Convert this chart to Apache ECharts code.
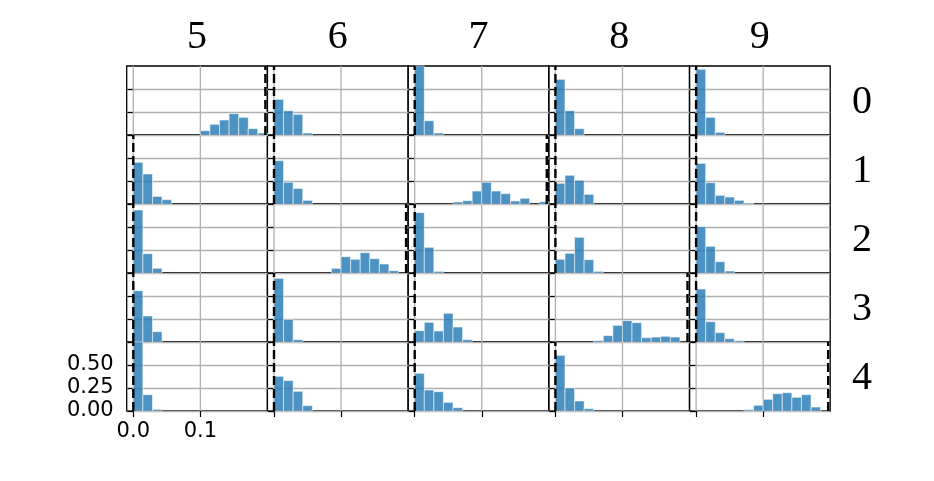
<!DOCTYPE html>
<html><head><meta charset="utf-8">
<script src="https://cdn.jsdelivr.net/npm/echarts@6/dist/echarts.min.js"></script>
<style>html,body{margin:0;padding:0;background:#fff}#c{width:934px;height:481px}</style>
</head><body><div id="c"></div>
<script>
// Column labels (top) and row labels (right)
const colLabels = ['5', '6', '7', '8', '9'];
const rowLabels = ['0', '1', '2', '3', '4'];
// Histogram bins: 14 bins spanning [binStart, binEnd]
const binStart = 0;
const binEnd = 0.2;
const binCount = 14;
// Bar heights (fraction) per cell, one array per row, columns 5..9
const row0 = [
  [0, 0, 0, 0, 0, 0, 0, 0.047, 0.116, 0.163, 0.232, 0.192, 0.069, 0.022],
  [0.388, 0.264, 0.225, 0.022, 0, 0, 0, 0, 0, 0, 0, 0, 0, 0],
  [0.82, 0.155, 0.022, 0, 0, 0, 0, 0, 0, 0, 0, 0, 0, 0],
  [0.605, 0.264, 0.069, 0, 0, 0, 0, 0, 0, 0, 0, 0, 0, 0],
  [0.714, 0.192, 0.029, 0, 0, 0, 0, 0, 0, 0, 0, 0, 0, 0]
];
const row1 = [
  [0.453, 0.326, 0.083, 0.047, 0, 0, 0, 0, 0, 0, 0, 0, 0, 0],
  [0.471, 0.236, 0.170, 0.040, 0, 0, 0, 0, 0, 0, 0, 0, 0, 0],
  [0, 0, 0, 0, 0.022, 0.036, 0.141, 0.236, 0.141, 0.112, 0.033, 0.062, 0, 0.025],
  [0.225, 0.312, 0.257, 0.105, 0, 0, 0, 0, 0, 0, 0, 0, 0, 0],
  [0.442, 0.232, 0.094, 0.076, 0.040, 0.010, 0, 0, 0, 0, 0, 0, 0, 0]
];
const row2 = [
  [0.685, 0.210, 0.051, 0, 0, 0, 0, 0, 0, 0, 0, 0, 0, 0],
  [0, 0, 0, 0, 0, 0, 0.051, 0.177, 0.149, 0.221, 0.156, 0.098, 0.025, 0],
  [0.656, 0.279, 0.018, 0, 0, 0, 0, 0, 0, 0, 0, 0, 0, 0],
  [0.149, 0.214, 0.388, 0.145, 0.018, 0, 0, 0, 0, 0, 0, 0, 0, 0],
  [0.503, 0.290, 0.123, 0.022, 0, 0, 0, 0, 0, 0, 0, 0, 0, 0]
];
const row3 = [
  [0.558, 0.283, 0.112, 0, 0, 0, 0, 0, 0, 0, 0, 0, 0, 0],
  [0.692, 0.246, 0.025, 0, 0, 0, 0, 0, 0, 0, 0, 0, 0, 0],
  [0.123, 0.214, 0.120, 0.312, 0.163, 0.025, 0, 0, 0, 0, 0, 0, 0, 0],
  [0, 0, 0, 0, 0.014, 0.069, 0.181, 0.232, 0.210, 0.047, 0.054, 0.062, 0.054, 0],
  [0.576, 0.221, 0.101, 0.036, 0.014, 0, 0, 0, 0, 0, 0, 0, 0, 0]
];
const row4 = [
  [0.80, 0.177, 0.018, 0, 0, 0, 0, 0, 0, 0, 0, 0, 0, 0],
  [0.377, 0.330, 0.214, 0.058, 0, 0, 0, 0, 0, 0, 0, 0, 0, 0],
  [0.410, 0.228, 0.210, 0.094, 0.036, 0, 0, 0, 0, 0, 0, 0, 0, 0],
  [0.605, 0.250, 0.109, 0.025, 0, 0, 0, 0, 0, 0, 0, 0, 0, 0],
  [0, 0, 0, 0, 0, 0.014, 0.062, 0.127, 0.188, 0.199, 0.149, 0.177, 0.043, 0]
];
const histRows = [row0, row1, row2, row3, row4];
// Dashed reference line position per cell
const dashRow0 = [0.197, 0, 0, 0, 0];
const dashRow1 = [0, 0, 0.197, 0, 0];
const dashRow2 = [0, 0.197, 0, 0, 0];
const dashRow3 = [0, 0, 0, 0.197, 0];
const dashRow4 = [0, 0, 0, 0, 0.197];
const dashRows = [dashRow0, dashRow1, dashRow2, dashRow3, dashRow4];
// Axis ticks
const xTicks = [0, 0.1];
const yTicks = [0, 0.25, 0.5];
const xMin = -0.00985, xMax = 0.2;
const yMin = 0, yMax = 0.75;

// layout
const L0 = 126.7, T0 = 66, CW = 140.7, CH = 69;
const grids = [], xAxes = [], yAxes = [], series = [], graphics = [];
const binW = (binEnd - binStart) / binCount;

for (let r = 0; r < 5; r++) {
  for (let c = 0; c < 5; c++) {
    const i = r * 5 + c;
    grids.push({left: L0 + c * CW, top: T0 + r * CH, width: CW, height: CH,
      show: true, borderColor: '#000', borderWidth: 1.3, backgroundColor: 'transparent', containLabel: false});
    const showXLab = (r === 4 && c === 0), showYLab = (r === 4 && c === 0);
    xAxes.push({gridIndex: i, type: 'value', min: xMin, max: xMax,
      axisLine: {show: false}, splitLine: {show: false},
      axisTick: {show: r === 4, customValues: xTicks, length: 6, lineStyle: {color: '#000', width: 1.2}},
      axisLabel: {show: showXLab, customValues: xTicks, formatter: v => v.toFixed(1), fontSize: 21,
        color: '#000', fontFamily: 'DejaVu Sans', margin: 10}});
    yAxes.push({gridIndex: i, type: 'value', min: yMin, max: yMax, interval: 0.25,
      axisLine: {show: false},
      splitLine: {show: true, lineStyle: {color: '#b0b0b0', width: 1.3}},
      axisTick: {show: true, customValues: yTicks, length: 6, lineStyle: {color: '#000', width: 1.2}},
      axisLabel: {show: showYLab, customValues: yTicks, formatter: v => v.toFixed(2), fontSize: 21,
        color: '#000', fontFamily: 'DejaVu Sans', margin: 13}});
    // x grid lines
    xTicks.forEach(t => {
      series.push({type: 'line', xAxisIndex: i, yAxisIndex: i, data: [[t, yMin], [t, yMax]],
        showSymbol: false, silent: true, z: 1, animation: false,
        lineStyle: {color: '#b0b0b0', width: 1.3}});
    });
    const vals = histRows[r][c];
    const data = [];
    vals.forEach((v, k) => { if (v > 0) data.push([binStart + k * binW, binStart + (k + 1) * binW, v]); });
    series.push({type: 'custom', xAxisIndex: i, yAxisIndex: i, data: data, z: 2, animation: false,
      encode: {x: [0, 1], y: 2},
      renderItem: function (params, api) {
        const p0 = api.coord([api.value(0), 0]);
        const p1 = api.coord([api.value(1), api.value(2)]);
        const cs = params.coordSys;
        const rect = echarts.graphic.clipRectByRect(
          {x: p0[0], y: p1[1], width: p1[0] - p0[0], height: p0[1] - p1[1]},
          {x: cs.x, y: cs.y, width: cs.width, height: cs.height});
        if (!rect) return;
        return {type: 'rect', shape: rect,
          style: {fill: 'rgba(31,119,180,0.8)', stroke: 'rgba(255,255,255,0.55)', lineWidth: 1}};
      }});
    const d = dashRows[r][c];
    series.push({type: 'line', xAxisIndex: i, yAxisIndex: i, data: [[d, yMin], [d, yMax]],
      showSymbol: false, silent: true, z: 4, animation: false,
      lineStyle: {color: '#000', width: 2.4, type: [9, 4]}});
  }
}
colLabels.forEach((t, c) => {
  graphics.push({type: 'text', x: L0 + c * CW + CW / 2, y: 37,
    style: {text: t, fill: '#000', font: '40px "Liberation Serif"', textAlign: 'center', textVerticalAlign: 'middle'}});
});
rowLabels.forEach((t, r) => {
  graphics.push({type: 'text', x: 862, y: T0 + r * CH + CH / 2 + 2,
    style: {text: t, fill: '#000', font: '40px "Liberation Serif"', textAlign: 'center', textVerticalAlign: 'middle'}});
});

const chart = echarts.init(document.getElementById('c'), null, {renderer: 'canvas'});
chart.setOption({animation: false, backgroundColor: '#fff', grid: grids, xAxis: xAxes, yAxis: yAxes,
  series: series, graphic: graphics});
</script></body></html>
